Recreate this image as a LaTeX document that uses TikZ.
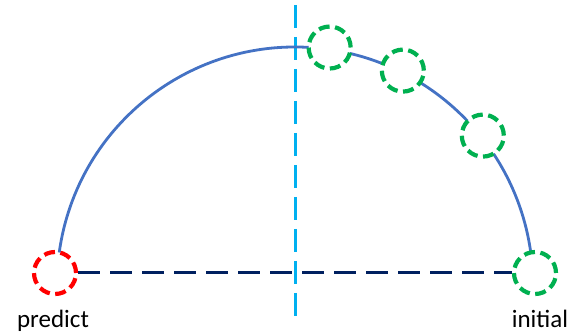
\documentclass[tikz,border=0pt]{standalone}
\usepackage{fontspec}
\setmainfont{Carlito}
\usetikzlibrary{positioning}
\definecolor{arcblue}{HTML}{4472C4}
\definecolor{skyblue}{HTML}{00B0F0}
\definecolor{navy}{HTML}{002060}
\definecolor{okgreen}{HTML}{00B050}

\begin{document}
\begin{tikzpicture}[
  x=1pt,y=1pt,
  ptnode/.style={circle,draw,fill=white,minimum size=42pt,inner sep=0pt,
    line width=4.2pt,dash pattern=on 11pt off 5.5pt},
  lbl/.style={inner sep=0pt,font=\fontsize{25}{30}\selectfont}
]
\useasboundingbox (0,0) rectangle (587,335);
\coordinate (o) at (295,50);
% axis of symmetry
\coordinate (top) at (295,330);
\coordinate (bot) at (295,18);
\draw[skyblue,line width=3pt,dash pattern=on 23pt off 9pt] (top) -- (bot);
% path of the points
\draw[arcblue,line width=2.8pt] ([shift={(172.3:238)}]o) arc[start angle=172.3,end angle=7.7,radius=238];
\node[ptnode,draw=red] (p) at (55,62) {};
\node[ptnode,draw=okgreen] (i) at (535,62) {};
\node[ptnode,draw=okgreen] (g1) at ([shift={(81.7:240)}]o) {};
\node[ptnode,draw=okgreen] (g2) at ([shift={(63.3:240)}]o) {};
\node[ptnode,draw=okgreen] (g3) at ([shift={(38.5:240)}]o) {};
\draw[navy,line width=3pt,dash pattern=on 22pt off 10pt] (p) -- (i);
\node[lbl,below=14pt of p,xshift=-2pt] {predict};
\node[lbl,below=14pt of i,xshift=5pt] {initial};
\end{tikzpicture}
\end{document}
